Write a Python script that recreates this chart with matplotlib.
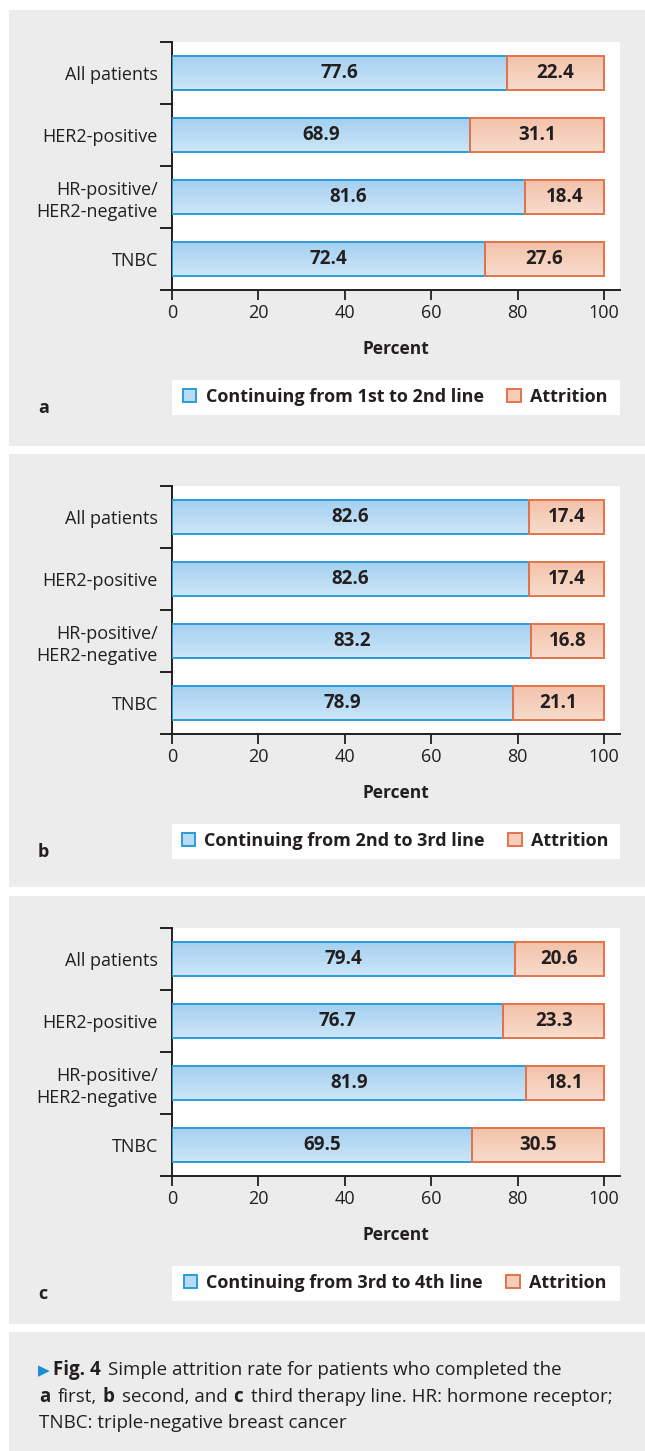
import numpy as np
import matplotlib
matplotlib.use("Agg")
import matplotlib.pyplot as plt
from matplotlib.patches import Rectangle, Patch
from matplotlib.colors import LinearSegmentedColormap

# ---------------- data ----------------
categories = ["All patients", "HER2-positive", "HR-positive/\nHER2-negative", "TNBC"]
continuing_a = [77.6, 68.9, 81.6, 72.4]
attrition_a = [22.4, 31.1, 18.4, 27.6]
continuing_b = [82.6, 82.6, 83.2, 78.9]
attrition_b = [17.4, 17.4, 16.8, 21.1]
continuing_c = [79.4, 76.7, 81.9, 69.5]
attrition_c = [20.6, 23.3, 18.1, 30.5]
legend_labels = ["Continuing from 1st to 2nd line",
                 "Continuing from 2nd to 3rd line",
                 "Continuing from 3rd to 4th line"]
attrition_label = "Attrition"
panel_letters = ["a", "b", "c"]
xticks = [0, 20, 40, 60, 80, 100]
xlabel = "Percent"

# ---------------- style ----------------
plt.rcParams["font.family"] = ["Open Sans", "DejaVu Sans"]
W, H = 645, 1451
TXT = "#231f20"
GRAY = "#ebeceb"
BLUE_EDGE, BLUE_TOP, BLUE_BOT = "#2a9cd9", "#a3cff0", "#cde7f8"
ORG_EDGE, ORG_TOP, ORG_BOT = "#e3734c", "#f3c1a8", "#f8dccd"

def fx(x):
    return x / W

def fy(y):
    return 1 - y / H

fig = plt.figure(figsize=(W / 100, H / 100), dpi=100, facecolor="white")

panel_tops = [10, 454, 896]
panel_bottoms = [446, 887, 1324]

def gradient_fill(ax, bars, c_top, c_bot):
    cmap = LinearSegmentedColormap.from_list("g", [c_top, c_bot])
    grad = np.linspace(0, 1, 64).reshape(-1, 1)
    for b in bars:
        x, y = b.get_x(), b.get_y()
        w, h = b.get_width(), b.get_height()
        im = ax.imshow(grad, cmap=cmap, aspect="auto", origin="upper",
                       extent=(x, x + w, y + h, y), zorder=2,
                       interpolation="bilinear")
        im.set_clip_path(b)

datasets = [(continuing_a, attrition_a), (continuing_b, attrition_b),
            (continuing_c, attrition_c)]

for i, (cont, attr) in enumerate(datasets):
    top, bot = panel_tops[i], panel_bottoms[i]
    fig.add_artist(Rectangle((fx(9), fy(bot)), (W - 9) / W, (bot - top) / H,
                             transform=fig.transFigure, facecolor=GRAY,
                             edgecolor="none", zorder=-5))
    ax_top, ax_bot = top + 32, top + 280
    ax = fig.add_axes([fx(172), fy(ax_bot), (620 - 172) / W, (ax_bot - ax_top) / H])
    ax.set_facecolor("white")
    ypos = np.arange(len(categories))
    b1 = ax.barh(ypos, cont, height=0.55, facecolor="none",
                 edgecolor=BLUE_EDGE, linewidth=1.4, zorder=3)
    b2 = ax.barh(ypos, attr, left=cont, height=0.55, facecolor="none",
                 edgecolor=ORG_EDGE, linewidth=1.4, zorder=3)
    gradient_fill(ax, b1, BLUE_TOP, BLUE_BOT)
    gradient_fill(ax, b2, ORG_TOP, ORG_BOT)
    for y, c, a in zip(ypos, cont, attr):
        ax.text(c / 2, y, f"{c:.1f}", ha="center", va="center",
                fontsize=13.5, fontweight="bold", color=TXT, zorder=4)
        ax.text(c + a / 2, y, f"{a:.1f}", ha="center", va="center",
                fontsize=13.5, fontweight="bold", color=TXT, zorder=4)
    ax.set_xlim(0, 103.7)
    ax.set_ylim(len(categories) - 0.5, -0.5)
    ax.set_xticks(xticks)
    ax.set_xticklabels([str(t) for t in xticks])
    ax.set_yticks(ypos)
    ax.set_yticklabels(categories, linespacing=1.3)
    ax.set_yticks(np.arange(-0.5, len(categories)), minor=True)
    ax.tick_params(axis="y", which="major", length=0, pad=10, labelsize=13,
                   labelcolor=TXT)
    ax.tick_params(axis="y", which="minor", length=9, width=1.4, color=TXT)
    ax.tick_params(axis="x", which="major", length=7, width=1.3, color=TXT,
                   labelsize=13, labelcolor=TXT, pad=3)
    for s in ["top", "right"]:
        ax.spines[s].set_visible(False)
    for s in ["left", "bottom"]:
        ax.spines[s].set_color(TXT)
        ax.spines[s].set_linewidth(1.4)
    ax.set_xlabel(xlabel, fontsize=12.5, fontweight="bold", color=TXT,
                  labelpad=13)

    # legend box
    fig.add_artist(Rectangle((fx(172), fy(top + 405)), (620 - 172) / W, 35 / H,
                             transform=fig.transFigure, facecolor="white",
                             edgecolor="none", zorder=-4))
    handles = [Patch(facecolor="#b8dcf4", edgecolor=BLUE_EDGE, linewidth=1.4),
               Patch(facecolor="#f5cdb9", edgecolor=ORG_EDGE, linewidth=1.4)]
    fig.legend(handles, [legend_labels[i], attrition_label], loc="center",
               bbox_to_anchor=(fx(395), fy(top + 387)), ncol=2, frameon=False,
               prop={"size": 13, "weight": "bold"}, handlelength=0.75,
               handleheight=0.75, handletextpad=0.5, columnspacing=1.3,
               labelcolor=TXT)
    fig.text(fx(38), fy(top + 398), panel_letters[i], fontsize=13,
             fontweight="bold", color=TXT, ha="left", va="center")

# ---------------- caption ----------------
fig.add_artist(Rectangle((fx(9), 0), (W - 9) / W, (H - 1332) / H,
                         transform=fig.transFigure, facecolor=GRAY,
                         edgecolor="none", zorder=-5))
renderer = fig.canvas.get_renderer()
CAP = 13.5

def draw_line(pieces, x0, ybase):
    x = x0
    for txt, weight, color, gap, size, fam in pieces:
        kw = {}
        if fam:
            kw["family"] = fam
        t = fig.text(x / W, fy(ybase), txt, fontsize=size, fontweight=weight,
                     color=color, ha="left", va="baseline", **kw)
        bb = t.get_window_extent(renderer)
        x = bb.x1 + gap

draw_line([("\u25B6", "normal", "#1b8fd6", 3, 11, ["DejaVu Sans"]),
           ("Fig. 4", "bold", TXT, 7, CAP, None),
           ("Simple attrition rate for patients who completed the", "normal", TXT, 0, CAP, None)],
          38, 1375)
draw_line([("a", "bold", TXT, 8, CAP, None),
           ("first,", "normal", TXT, 5, CAP, None),
           ("b", "bold", TXT, 8, CAP, None),
           ("second, and", "normal", TXT, 5, CAP, None),
           ("c", "bold", TXT, 8, CAP, None),
           ("third therapy line. HR: hormone receptor;", "normal", TXT, 0, CAP, None)],
          39, 1402)
draw_line([("TNBC: triple-negative breast cancer", "normal", TXT, 0, CAP, None)],
          39, 1428)

fig.savefig("out.png", dpi=100, facecolor="white")
